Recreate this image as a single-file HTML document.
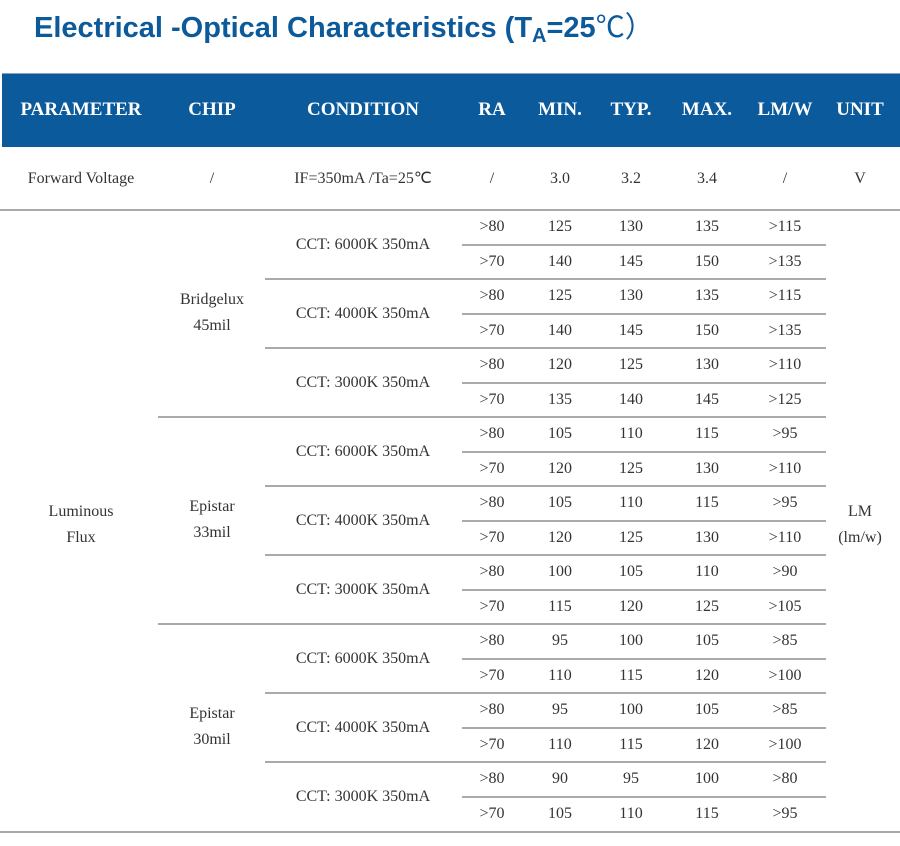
<!DOCTYPE html>
<html><head><meta charset="utf-8"><style>
html,body{margin:0;padding:0;background:#fff;width:900px;height:846px;overflow:hidden;position:relative}
.t{position:absolute;font-family:"Liberation Serif",serif;font-size:16px;color:#333;white-space:nowrap;transform:translate(-50%,-50%);text-align:center;line-height:26px}
.h{position:absolute;font-family:"Liberation Serif",serif;font-size:19px;font-weight:bold;color:#fff;white-space:nowrap;transform:translate(-50%,-50%)}
.l{position:absolute;height:2px;background:#aaa}
#title{position:absolute;left:34px;top:4px;font-family:"Liberation Sans","Noto Sans CJK SC",sans-serif;font-weight:bold;font-size:29px;color:#0d5a9b;white-space:nowrap}
#title sub{font-size:20px;vertical-align:-5px}
</style></head><body>
<div id="title">Electrical -Optical Characteristics (T<sub>A</sub>=25<span style="font-weight:normal">℃）</span></div>
<div style="position:absolute;left:2px;top:73px;width:898px;height:73px;background:#0b5a9c;border-top:1px solid #7fa6c9"></div>
<div id="root"></div>
<script>
const headers=["PARAMETER","CHIP","CONDITION","RA","MIN.","TYP.","MAX.","LM/W","UNIT"];
const colX=[81,212,363,492,560,631,707,785,860];
const fv=["Forward Voltage","/","IF=350mA /Ta=25℃","/","3.0","3.2","3.4","/","V"];
const chips=["Bridgelux<br>45mil","Epistar<br>33mil","Epistar<br>30mil"];
const conds=["CCT: 6000K 350mA","CCT: 4000K 350mA","CCT: 3000K 350mA"];
const ra=[">80",">70"];
const minV=[125,140,125,140,120,135,105,120,105,120,100,115,95,110,95,110,90,105];
const typV=[130,145,130,145,125,140,110,125,110,125,105,120,100,115,100,115,95,110];
const maxV=[135,150,135,150,130,145,115,130,115,130,110,125,105,120,105,120,100,115];
const lmw=[">115",">135",">115",">135",">110",">125",">95",">110",">95",">110",">90",">105",">85",">100",">85",">100",">80",">95"];
const root=document.getElementById('root');
function txt(cls,x,y,s,name){const d=document.createElement('div');d.className=cls;d.style.left=x+'px';d.style.top=y+'px';d.innerHTML=s;


root.appendChild(d);}
function line(x1,x2,y,name){const d=document.createElement('div');d.className='l';d.style.left=x1+'px';d.style.width=(x2-x1)+'px';d.style.top=y+'px';


root.appendChild(d);}
headers.forEach((h,i)=>txt('h',colX[i],110,h,'header-'+h.toLowerCase().replace(/[^a-z]/g,'')));
fv.forEach((v,i)=>txt('t',colX[i],179,v,'forward-voltage-cell'));
line(0,900,209,'row-divider');
const top0=210,rh=34.5;
for(let r=0;r<18;r++){
 const cy=top0+rh*r+rh/2;
 txt('t',colX[3],cy,ra[r%2],'ra-cell');
 txt('t',colX[4],cy,minV[r],'min-cell');
 txt('t',colX[5],cy,typV[r],'typ-cell');
 txt('t',colX[6],cy,maxV[r],'max-cell');
 txt('t',colX[7],cy,lmw[r],'lmw-cell');
 if(r<17){const y=top0+rh*(r+1)-1;
  if((r+1)%6==0)line(158,826,y,'chip-divider');
  else if((r+1)%2==0)line(265,826,y,'condition-divider');
  else line(462,826,y,'ra-divider');}
}
for(let c=0;c<9;c++)txt('t',colX[2],top0+rh*2*c+rh,conds[c%3],'condition-cell');
for(let g=0;g<3;g++)txt('t',colX[1],top0+rh*6*g+rh*3-1,chips[g],'chip-cell');
txt('t',colX[0],top0+rh*9+4,'Luminous<br>Flux','parameter-luminous-flux');
txt('t',colX[8],top0+rh*9+4,'LM<br>(lm/w)','unit-cell');
line(0,900,831,'table-bottom-border');
</script>
</body></html>
